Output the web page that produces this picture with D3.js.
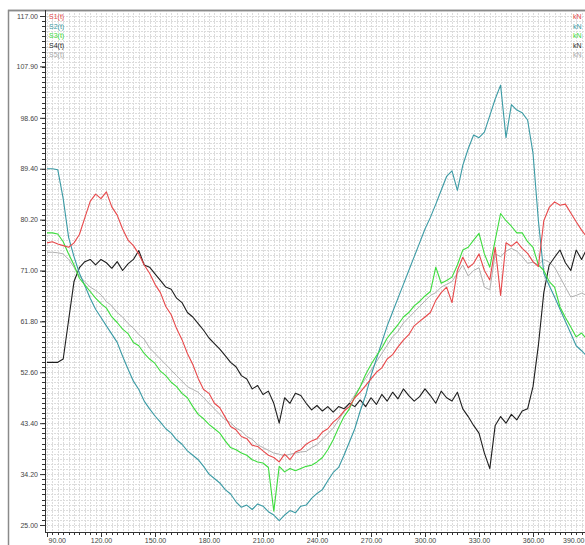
<!DOCTYPE html>
<html>
<head>
<meta charset="utf-8">
<script src="https://cdn.jsdelivr.net/npm/d3@7"></script>
<style>
  body { margin: 0; background: #fff; }
  svg { display: block; font-family: 'Liberation Sans', Arial, sans-serif; }
</style>
</head>
<body>
<div id="chart"></div>
<script>
const width = 585
const height = 545

// x samples: 90, 93, ... 390
const xStart = 90
const xStep = 3

const yTickLabels = ['25.00', '34.20', '43.40', '52.60', '61.80', '71.00', '80.20', '89.40', '98.60', '107.90', '117.00']
const xTickLabels = ['90.00', '120.00', '150.00', '180.00', '210.00', '240.00', '270.00', '300.00', '330.00', '360.00', '390.00']
const seriesNames = ['S1(t)', 'S2(t)', 'S3(t)', 'S4(t)', 'S5(t)']
const units = ['kN', 'kN', 'kN', 'kN', 'kN']

const s1 = [
  76, 76.2, 75.8, 75.5, 75.2, 76, 77.5, 80.5, 83.5, 84.8,
  84, 85.2, 82.5, 81, 78.5, 76.5, 75.5, 74, 72, 70.5,
  68.5, 67, 64.5, 63, 60.5, 58.5, 56, 54, 51.5, 49.5,
  48.8, 47, 46.2, 44.5, 42.8, 42.2, 41, 40.6, 39.4, 39.2,
  38.4, 37.6, 37.2, 36.4, 37.8, 36.8, 38.2, 38.6, 39.6, 40.2,
  40.6, 41.8, 42.4, 43.6, 44.4, 45.6, 46.4, 48, 49, 50.2,
  51.4, 52.6, 53.4, 55, 55.8, 57.2, 58.4, 59.4, 61, 61.8,
  62.6, 63.4, 65.6, 67, 68, 65.2, 71, 73.4, 71.5, 72.3,
  74, 71, 69.3, 75.2, 66.5, 76, 75.4, 76.2, 75, 74.1,
  72.6, 71.7, 80, 82.4, 83.4, 82.8, 83, 81.4, 79.8, 78.3,
  77
]
const s2 = [
  89.4, 89.4, 89.2, 84, 77, 73.5, 70.5, 68.3, 66, 64,
  62.5, 61, 59.5, 58, 55.5, 53.2, 51, 49.5, 47.4, 46,
  44.7, 43.6, 42.4, 41.6, 40.4, 39.6, 38.4, 37.6, 36.8, 35.6,
  34.2, 33.4, 32.6, 31.4, 30.6, 29.2, 28.2, 28.6, 27.8, 28.8,
  28.4, 27.4, 26.8, 25.8, 26.8, 27.6, 27.2, 28.4, 28.6, 29.8,
  30.7, 31.4, 33, 34.5, 35.4, 37.6, 40, 42.4, 45.6, 48.4,
  52, 55, 58, 61, 63.5, 66, 68.5, 71, 73.5, 76,
  78.5, 80.6, 83, 85.5, 88, 89, 85.5, 90, 93, 95.5,
  95, 96, 99, 102, 104.5, 95, 101, 100, 99.5, 98.2,
  92.2, 80, 70.5, 68.3, 66.2, 64, 61.8, 59.6, 57.4, 56.5,
  55.5
]
const s3 = [
  77.8, 77.8, 77.6, 76.2, 74, 72, 69.6, 68.4, 67.2, 66,
  65, 64.2, 62.6, 61.6, 60.4, 59.6, 58, 57.4, 56, 55,
  54.2, 52.8, 52, 50.8, 50, 48.8, 48, 46.4, 45, 44.2,
  43.2, 42.4, 41.6, 40.2, 39, 38.6, 38, 37.6, 36.8, 36.4,
  36.2, 35.4, 27.5, 35.6, 34.6, 35.2, 34.8, 35.2, 35.6, 35.8,
  36.4, 37.2, 38.6, 40.4, 42.6, 44.6, 46, 48.2, 50, 52.2,
  54, 55.6, 57, 58.8, 60, 61.2, 62.6, 63.4, 64.6, 65.4,
  66.4, 67.2, 71.6, 68.7, 69.2, 69.8, 72, 74.7, 75.2, 76.5,
  77.7, 74, 71.6, 76.5, 81.3, 80, 79, 77.8, 77.8, 76.2,
  75.2, 72, 71, 69, 68, 64.4, 62.5, 60.8, 59, 59.7,
  58.5
]
const s4 = [
  54.4, 54.4, 54.4, 55, 62, 69, 71.5, 72.6, 73, 72,
  73, 72.4, 71.4, 72.6, 71, 72.2, 73, 74.6, 72, 71.6,
  70.4, 69.2, 68, 67.6, 66, 65.2, 63.4, 62.6, 61.4, 60.2,
  58.8, 57.8, 56.8, 55.6, 54.4, 53.6, 52, 51.4, 49.6, 50.2,
  48.6, 49.2, 47, 43.4, 48, 47, 48.8, 48.4, 47, 45.8,
  46.6, 45.6, 46.4, 45.4, 46.4, 46, 47, 46.4, 47.6, 46.4,
  48, 46.8, 48.6, 47.4, 49, 47.8, 49.6, 48.4, 47.4, 48.2,
  49.6, 48.4, 47, 49.2, 48, 47.4, 49, 46, 44.6, 43,
  41.6, 38, 35.2, 43, 44.6, 43.4, 45, 44, 45.6, 46,
  50, 57.5, 67, 72, 73.4, 74.7, 72.4, 71, 74.7, 73,
  75
]
const s5 = [
  74.3, 74.3, 74.2, 74, 73, 71.6, 70, 69, 68, 67.4,
  66.6, 65.4, 64.6, 63.4, 62.6, 61.4, 60.6, 59.4, 58.6, 57,
  56, 55, 54, 53, 52, 51, 50, 49.5, 49, 48,
  47, 46, 45, 44, 43.5, 42.5, 42, 41, 40.5, 39.5,
  39, 38.5, 38, 37.8, 37.5, 37.8, 38, 38.2, 38.3, 39,
  39.5, 40.5, 41.5, 42.5, 44, 45.5, 47, 48.5, 50, 51.5,
  53, 54.5, 56, 57.5, 59, 60, 61.5, 62.5, 63.5, 64.5,
  65.5, 66.5, 67, 68, 68.5, 69, 70.5, 72, 70, 71,
  71.5, 68, 67.5, 74, 73.5, 74.5, 75, 74.5, 73.5, 72.3,
  72.5, 72, 73, 72.5, 71.6, 69.8, 68, 66.2, 66.5, 66.9,
  66.5
]

const colors = ['#e8484a', '#3a9aa4', '#3ddc3d', '#1e1e1e', '#a8a8a8']
const allSeries = [s1, s2, s3, s4, s5]

const plotLeft = 45
const plotTop = 10
const plotBottom = 532

const x = d3.scaleLinear().domain([90, 390]).range([47, 587])
const y = d3.scaleLinear().domain([25, 117]).range([525, 16])

const svg = d3.select('#chart').append('svg')
  .attr('width', width)
  .attr('height', height)

// outer frame
svg.append('rect')
  .attr('x', 8.5).attr('y', 10.5)
  .attr('width', 600).attr('height', 560)
  .attr('fill', 'none')
  .attr('stroke', '#8a8a8a')
  .attr('stroke-width', 1.5)

svg.append('clipPath').attr('id', 'plot')
  .append('rect')
  .attr('x', plotLeft).attr('y', plotTop)
  .attr('width', width - plotLeft).attr('height', plotBottom - plotTop)

const grid = svg.append('g').attr('clip-path', 'url(#plot)')

// fine grid: 10 cells per labelled interval
const yGrid = d3.range(0, 101).map(i => 25 + i * 0.92)
const xGrid = d3.range(-1, 101).map(i => 90 + i * 3)

grid.selectAll('.gy').data(yGrid).enter().append('line')
  .attr('x1', plotLeft).attr('x2', width)
  .attr('y1', d => Math.round(y(d)) + 0.5).attr('y2', d => Math.round(y(d)) + 0.5)
  .attr('stroke', '#dcdcdc')
  .attr('stroke-dasharray', '2,1')

grid.selectAll('.gx').data(xGrid).enter().append('line')
  .attr('y1', plotTop).attr('y2', plotBottom)
  .attr('x1', d => Math.round(x(d)) + 0.5).attr('x2', d => Math.round(x(d)) + 0.5)
  .attr('stroke', '#dcdcdc')
  .attr('stroke-dasharray', '2,1')

// top border of plot
svg.append('line')
  .attr('x1', 8).attr('x2', width)
  .attr('y1', 10.5).attr('y2', 10.5)
  .attr('stroke', '#8a8a8a').attr('stroke-width', 1.5)

// series lines
const line = d3.line()
  .x((d, i) => x(xStart + i * xStep))
  .y(d => y(d))

const drawOrder = [4, 3, 1, 2, 0]
grid.selectAll('.series').data(drawOrder).enter().append('path')
  .attr('fill', 'none')
  .attr('stroke', k => colors[k])
  .attr('stroke-width', k => (k === 4 ? 0.9 : 1.1))
  .attr('stroke-linejoin', 'round')
  .attr('d', k => line(allSeries[k]))

// y axis
const yAxis = d3.axisLeft(y)
  .tickValues(yTickLabels.map(Number))
  .tickFormat((d, i) => yTickLabels[i])
  .tickSize(5)
const gy = svg.append('g').attr('transform', `translate(${plotLeft},0)`).call(yAxis)
gy.select('.domain').attr('d', `M0.5,${plotTop}V${plotBottom}`).attr('stroke', '#333')
gy.selectAll('.tick line').attr('stroke', '#333')
gy.selectAll('text').attr('font-size', 7).attr('fill', '#444').attr('x', -7)

gy.selectAll('.minor').data(yGrid).enter().append('line')
  .attr('x1', -3).attr('x2', 0)
  .attr('y1', d => Math.round(y(d)) + 0.5).attr('y2', d => Math.round(y(d)) + 0.5)
  .attr('stroke', '#333')

// x axis
const xAxis = d3.axisBottom(x)
  .tickValues(xTickLabels.map(Number))
  .tickFormat((d, i) => xTickLabels[i])
  .tickSize(5)
const gx = svg.append('g').attr('transform', `translate(0,${plotBottom})`).call(xAxis)
gx.select('.domain').attr('d', `M${plotLeft},0.5H${width}`).attr('stroke', '#333')
gx.selectAll('.tick line').attr('stroke', '#333')
gx.selectAll('text').attr('font-size', 7).attr('fill', '#444').attr('y', 6)
// first label sits right of its tick, last one is kept inside the window
gx.selectAll('text').filter((d, i) => i === 0).attr('text-anchor', 'start').attr('x', 1)
gx.selectAll('text').filter((d, i) => i === xTickLabels.length - 1)
  .attr('text-anchor', 'end').attr('x', width - 1 - x(390))

gx.selectAll('.minor').data(xGrid.filter(d => d >= 90)).enter().append('line')
  .attr('y1', 0).attr('y2', 3)
  .attr('x1', d => Math.round(x(d)) + 0.5).attr('x2', d => Math.round(x(d)) + 0.5)
  .attr('stroke', '#333')

// legend
svg.selectAll('.lname').data(seriesNames).enter().append('text')
  .attr('x', 49).attr('y', (d, i) => 19 + i * 9.5)
  .attr('font-size', 7)
  .attr('fill', (d, i) => colors[i])
  .text(d => d)

svg.selectAll('.lunit').data(units).enter().append('text')
  .attr('x', 573).attr('y', (d, i) => 19 + i * 9.5)
  .attr('font-size', 7)
  .attr('fill', (d, i) => colors[i])
  .text(d => d)
</script>
</body>
</html>
